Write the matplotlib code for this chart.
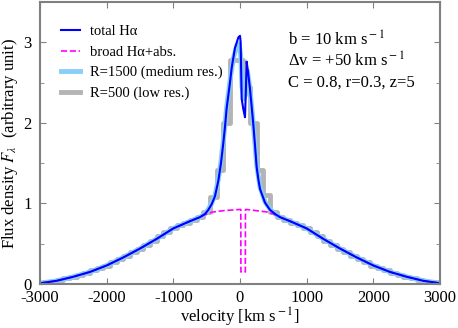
import matplotlib
matplotlib.use("Agg")
from matplotlib import pyplot as plt
import numpy as np

plt.rcParams['font.family'] = ['Liberation Serif', 'DejaVu Serif']
plt.rcParams['mathtext.fontset'] = 'stix'
plt.rcParams['axes.unicode_minus'] = False

# total H-alpha profile (velocity km/s, flux)
v_total = [-3000, -2750, -2500, -2250, -2000, -1750, -1500, -1250, -1000, -750, -600,
           -525, -475, -425, -375, -325, -285, -250, -225, -200, -150, -125, -75, -25,
           0, 10, 25, 50, 75, 88, 100, 125, 150, 175, 200, 225, 250, 275, 300, 375,
           450, 525, 600, 750, 1000, 1250, 1500, 1750, 2000, 2250, 2500, 2750, 3000]
f_total = [0.01, 0.04, 0.09, 0.15, 0.23, 0.33, 0.44, 0.56, 0.69, 0.78, 0.83,
           0.87, 0.92, 0.99, 1.09, 1.28, 1.50, 1.75, 1.95, 2.18, 2.50, 2.68, 2.93, 3.06,
           3.08, 3.00, 2.30, 2.17, 2.07, 2.40, 2.76, 2.60, 2.42, 2.20, 1.98, 1.72, 1.45,
           1.30, 1.18, 1.01, 0.92, 0.87, 0.83, 0.78, 0.69, 0.56, 0.44, 0.33, 0.23, 0.15,
           0.09, 0.04, 0.01]

# broad component with absorption
v_broad = [-3000, -2750, -2500, -2250, -2000, -1750, -1500, -1250, -1000, -750, -600,
           -500, -400, -250, -100, 0, 12, 14, 80, 82, 100, 250, 400, 500, 600, 750,
           1000, 1250, 1500, 1750, 2000, 2250, 2500, 2750, 3000]
f_broad = [0.01, 0.04, 0.09, 0.15, 0.23, 0.33, 0.44, 0.56, 0.69, 0.78, 0.83,
           0.87, 0.895, 0.91, 0.92, 0.925, 0.925, 0.15, 0.15, 0.925, 0.925, 0.91, 0.895,
           0.87, 0.83, 0.78, 0.69, 0.56, 0.44, 0.33, 0.23, 0.15, 0.09, 0.04, 0.01]

# R=1500 (medium resolution)
v_med = [-3000, -2750, -2500, -2250, -2000, -1750, -1500, -1250, -1000, -750, -600,
         -525, -475, -425, -375, -325, -285, -250, -225, -200, -150, -100, -50, -15,
         10, 30, 60, 85, 110, 150, 200, 250, 300, 375, 450, 525, 600, 750, 1000, 1250,
         1500, 1750, 2000, 2250, 2500, 2750, 3000]
f_med = [0.01, 0.04, 0.09, 0.15, 0.23, 0.33, 0.44, 0.56, 0.69, 0.78, 0.83,
         0.87, 0.93, 1.00, 1.10, 1.30, 1.52, 1.78, 1.97, 2.20, 2.52, 2.80, 2.95, 2.98,
         2.85, 2.45, 2.30, 2.35, 2.65, 2.42, 1.98, 1.48, 1.20, 1.02, 0.93, 0.87, 0.83,
         0.78, 0.69, 0.56, 0.44, 0.33, 0.23, 0.15, 0.09, 0.04, 0.01]

# R=500 (low resolution), 100 km/s bins
v_low = list(range(-3000, 3001, 100))
f_low = [0.01, 0.02, 0.03, 0.05, 0.07, 0.09, 0.11, 0.14, 0.17, 0.20,
         0.23, 0.27, 0.31, 0.35, 0.40, 0.44, 0.49, 0.54, 0.59, 0.64,
         0.69, 0.73, 0.76, 0.80, 0.83, 0.90, 1.08, 1.42, 2.00, 2.78,
         2.78,
         2.45, 2.00, 1.42, 1.10, 0.90, 0.83, 0.80, 0.76, 0.73, 0.69,
         0.64, 0.59, 0.54, 0.49, 0.44, 0.40, 0.35, 0.31, 0.27, 0.23,
         0.20, 0.17, 0.14, 0.11, 0.09, 0.07, 0.05, 0.03, 0.02, 0.01]

fig = plt.figure(figsize=(4.58, 3.28), dpi=100)
ax = fig.add_axes([0.087, 0.134, 0.874, 0.86])

ax.step(v_low, f_low, where='mid', color='#b4b4b4', lw=3.5, label='R=500 (low res.)')
ax.plot(v_med, f_med, color='#87cefa', lw=3.5, label='R=1500 (medium res.)')
ax.plot(v_broad, f_broad, color='#ff00ff', lw=1.2, ls='--', label='broad Hα+abs.')
ax.plot(v_total, f_total, color='#0000ff', lw=1.5, label='total Hα')

ax.set_xlim(-3000, 3000)
ax.set_ylim(0, 3.5)
ax.set_xticks(np.arange(-3000, 3001, 1000))
ax.set_yticks([0, 1, 2, 3])
ax.set_yticks(np.arange(0.5, 3.5, 1.0), minor=True)
ax.tick_params(which='both', direction='in', top=True, right=True, color='#808080',
               labelsize=12)
ax.tick_params(which='major', length=4)
ax.tick_params(which='minor', length=3)
ax.tick_params(axis='x', pad=4)
ax.tick_params(axis='y', pad=6)
for s in ax.spines.values():
    s.set_color('#808080')
    s.set_linewidth(1.5)

ax.set_xlabel(r'velocity [km s$^{\rm -1}$]', fontsize=12, labelpad=0)
ax.set_ylabel(r'Flux density $F_\lambda$  (arbitrary unit)', fontsize=12, labelpad=2)

h, l = ax.get_legend_handles_labels()
ax.legend(h[::-1], l[::-1], loc='upper left', bbox_to_anchor=(0.02, 0.965), frameon=False,
          fontsize=10.5, handlelength=1.3, labelspacing=0.5, handletextpad=0.7)

ax.text(0.62, 0.865, r'b = 10 km s$^{\rm -1}$', transform=ax.transAxes, fontsize=12, va='center')
ax.text(0.62, 0.79, r'Δv = +50 km s$^{\rm -1}$', transform=ax.transAxes, fontsize=12, va='center')
ax.text(0.62, 0.715, 'C = 0.8, r=0.3, z=5', transform=ax.transAxes, fontsize=12, va='center')

plt.savefig('out.png', dpi=100)
